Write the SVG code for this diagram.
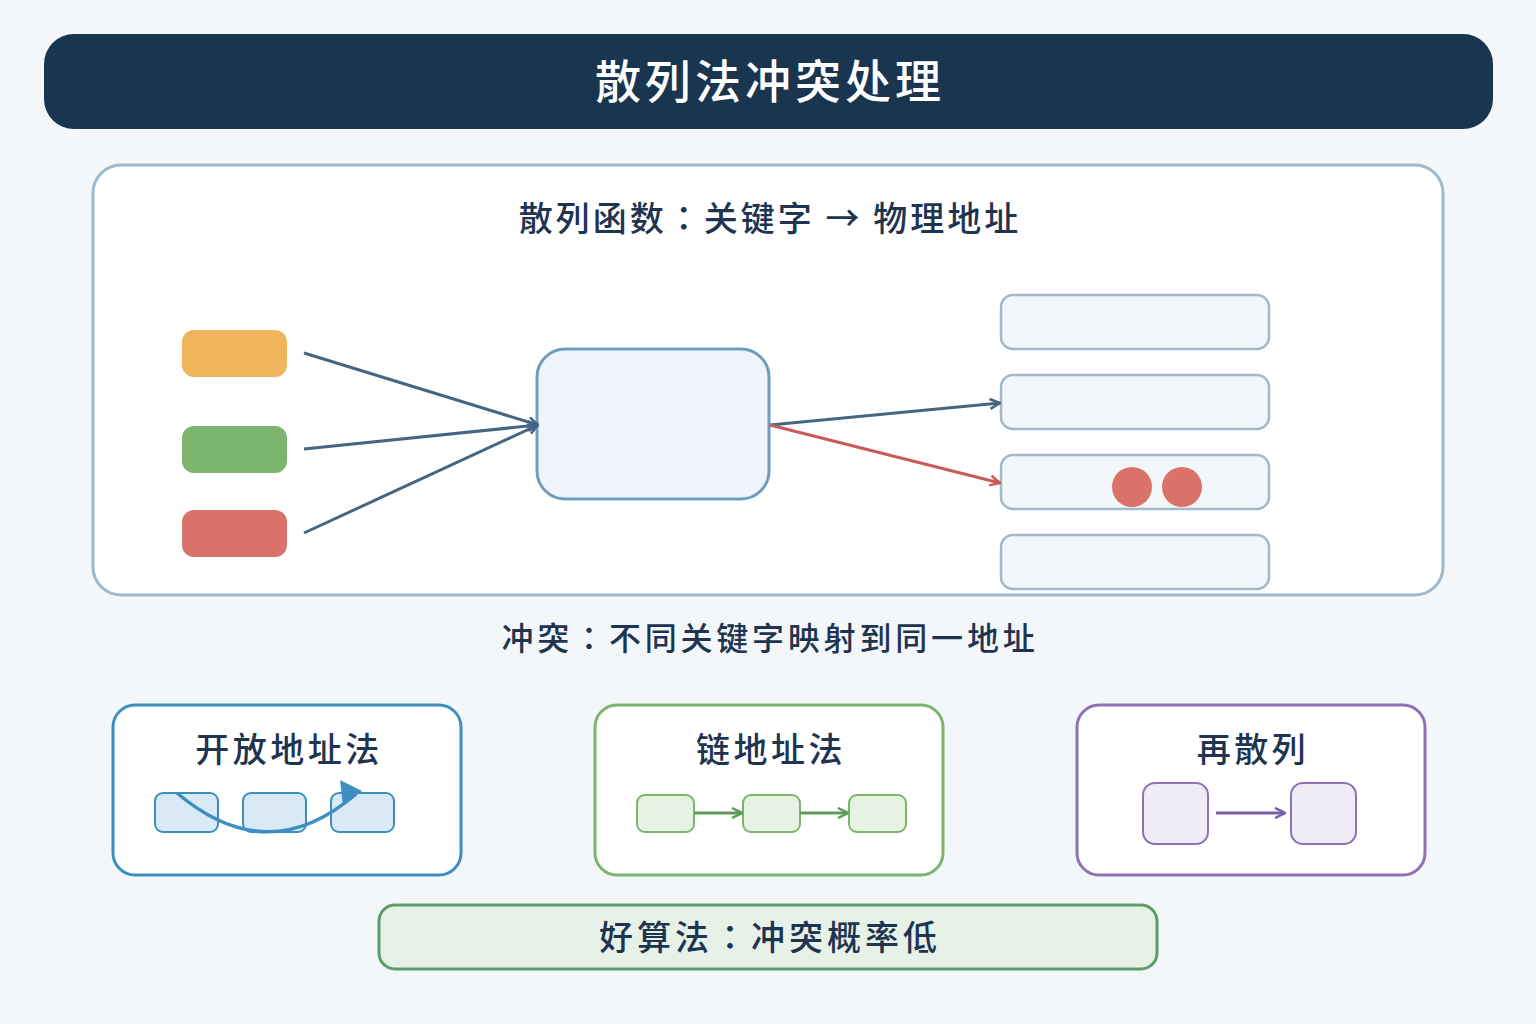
<svg xmlns="http://www.w3.org/2000/svg" width="1536" height="1024" viewBox="0 0 1536 1024">
<style>
text{font-family:"Noto Sans CJK TC","Noto Sans CJK SC","Noto Sans",sans-serif;text-anchor:middle;fill:#1e3450;font-weight:500}
.bucket{fill:#f4f7fa;stroke:#a0b8cc;stroke-width:2.5}
.card{fill:#fff;stroke-width:3}
.conn{fill:none;stroke-width:3}
</style>
<defs>
<marker id="ah" viewBox="0 0 12 12" refX="11" refY="6" markerWidth="12" markerHeight="12" markerUnits="userSpaceOnUse" orient="auto"><path d="M1,1 L11,6 L1,11" fill="none" stroke="#456581" stroke-width="2.5"/></marker>
<marker id="ahr" viewBox="0 0 12 12" refX="11" refY="6" markerWidth="12" markerHeight="12" markerUnits="userSpaceOnUse" orient="auto"><path d="M1,1 L11,6 L1,11" fill="none" stroke="#c85a5a" stroke-width="2.5"/></marker>
<marker id="ahg" viewBox="0 0 12 12" refX="11" refY="6" markerWidth="12" markerHeight="12" markerUnits="userSpaceOnUse" orient="auto"><path d="M1,1 L11,6 L1,11" fill="none" stroke="#5e9b5a" stroke-width="2.5"/></marker>
<marker id="ahp" viewBox="0 0 12 12" refX="11" refY="6" markerWidth="12" markerHeight="12" markerUnits="userSpaceOnUse" orient="auto"><path d="M1,1 L11,6 L1,11" fill="none" stroke="#7a5fa8" stroke-width="2.5"/></marker>
</defs>
<rect width="1536" height="1024" fill="#f3f7fa"/>
<g id="title">
<rect x="44" y="34" width="1449" height="95" rx="30" fill="#1a3550"/>
<text x="770" y="98" font-size="46" letter-spacing="4" style="fill:#fff">散列法冲突处理</text>
</g>
<g id="panel">
<rect x="93" y="165" width="1350" height="430" rx="28" fill="#fff" stroke="#a0b8cc" stroke-width="3"/>
<text x="770" y="231" font-size="34" letter-spacing="3">散列函数：关键字 → 物理地址</text>
</g>
<g id="key1"><rect x="182" y="330" width="105" height="47" rx="12" fill="#f0b45c"/></g>
<g id="key2"><rect x="182" y="426" width="105" height="47" rx="12" fill="#7bb56e"/></g>
<g id="key3"><rect x="182" y="510" width="105" height="47" rx="12" fill="#d9736a"/></g>
<g id="hashfn"><rect x="537" y="349" width="232" height="150" rx="28" fill="#eef4f9" stroke="#6e9dbe" stroke-width="3"/></g>
<g id="bucket1"><rect class="bucket" x="1001" y="295" width="268" height="54" rx="12"/></g>
<g id="bucket2"><rect class="bucket" x="1001" y="375" width="268" height="54" rx="12"/></g>
<g id="bucket3"><rect class="bucket" x="1001" y="455" width="268" height="54" rx="12"/>
<circle cx="1132" cy="487" r="20" fill="#d9736a"/><circle cx="1182" cy="487" r="20" fill="#d9736a"/></g>
<g id="bucket4"><rect class="bucket" x="1001" y="535" width="268" height="54" rx="12"/></g>
<g id="connectors">
<line class="conn" x1="304" y1="353" x2="538" y2="425" stroke="#456581" marker-end="url(#ah)"/>
<line class="conn" x1="304" y1="449" x2="538" y2="425" stroke="#456581" marker-end="url(#ah)"/>
<line class="conn" x1="304" y1="533" x2="538" y2="425" stroke="#456581" marker-end="url(#ah)"/>
<line class="conn" x1="770" y1="425" x2="1000" y2="403" stroke="#456581" marker-end="url(#ah)"/>
<line class="conn" x1="770" y1="425" x2="1000" y2="483" stroke="#c85a5a" marker-end="url(#ahr)"/>
</g>
<g id="collision"><text x="770" y="650" font-size="32" letter-spacing="3.8">冲突：不同关键字映射到同一地址</text></g>
<g id="open">
<rect class="card" x="113" y="705" width="348" height="170" rx="22" stroke="#3d8fc1"/>
<text x="289" y="762" font-size="34" letter-spacing="3.5">开放地址法</text>
<rect x="155" y="793" width="63" height="39" rx="8" fill="#d9eaf6" stroke="#3d8fc1" stroke-width="2"/>
<rect x="243" y="793" width="63" height="39" rx="8" fill="#d9eaf6" stroke="#3d8fc1" stroke-width="2"/>
<rect x="331" y="793" width="63" height="39" rx="8" fill="#d9eaf6" stroke="#3d8fc1" stroke-width="2"/>
<path d="M177,793 Q268,870 356,794" fill="none" stroke="#3d8fc1" stroke-width="3.5"/>
<path d="M340,780 L362,791 L343,806 Z" fill="#3d8fc1"/>
</g>
<g id="chain">
<rect class="card" x="595" y="705" width="348" height="170" rx="22" stroke="#7bb56e"/>
<text x="771" y="762" font-size="34" letter-spacing="3.5">链地址法</text>
<rect x="637" y="795" width="57" height="37" rx="8" fill="#e6f3e3" stroke="#7bb56e" stroke-width="2"/>
<rect x="743" y="795" width="57" height="37" rx="8" fill="#e6f3e3" stroke="#7bb56e" stroke-width="2"/>
<rect x="849" y="795" width="57" height="37" rx="8" fill="#e6f3e3" stroke="#7bb56e" stroke-width="2"/>
<line class="conn" x1="694" y1="813" x2="742" y2="813" stroke="#5e9b5a" marker-end="url(#ahg)"/>
<line class="conn" x1="800" y1="813" x2="848" y2="813" stroke="#5e9b5a" marker-end="url(#ahg)"/>
</g>
<g id="rehash">
<rect class="card" x="1077" y="705" width="348" height="170" rx="22" stroke="#8e72b8"/>
<text x="1253" y="762" font-size="34" letter-spacing="3.5">再散列</text>
<rect x="1143" y="783" width="65" height="61" rx="12" fill="#efecf8" stroke="#8e72b8" stroke-width="2"/>
<rect x="1291" y="783" width="65" height="61" rx="12" fill="#efecf8" stroke="#8e72b8" stroke-width="2"/>
<line class="conn" x1="1216" y1="813" x2="1285" y2="813" stroke="#7a5fa8" marker-end="url(#ahp)"/>
</g>
<g id="good">
<rect x="379" y="905" width="778" height="64" rx="16" fill="#e6f2e8" stroke="#5e9b6a" stroke-width="3"/>
<text x="770" y="950" font-size="34" letter-spacing="4">好算法：冲突概率低</text>
</g>
</svg>
